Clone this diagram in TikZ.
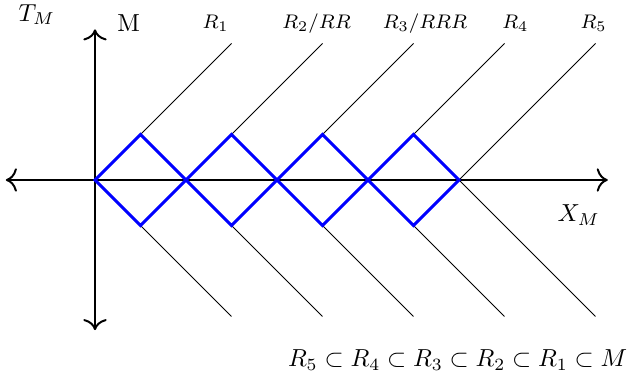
\documentclass[tikz,border=0pt]{standalone}
\usepackage{amsmath,amssymb}
\usepackage{tikz}
\usetikzlibrary{arrows.meta,positioning,calc}
\tikzset{
  ax/.style={{To[length=4.5pt,width=9.5pt]}-{To[length=4.5pt,width=9.5pt]},thick},
  ray/.style={thin},
  dia/.style={blue,very thick,line join=miter},
  lab/.style={anchor=base,inner sep=0pt},
  slab/.style={anchor=base,inner sep=0pt,font=\footnotesize},
}

\begin{document}
\begin{tikzpicture}[x=0.65cm,y=0.65cm]
  \useasboundingbox (-2.088,-4.352) rectangle (11.692,3.956);
  % axes
  \coordinate (xl) at (-1.96,0);
  \coordinate (xr) at (11.27,0);
  \coordinate (yt) at (0,3.31);
  \coordinate (yb) at (0,-3.3);
  \draw[ax] (xl) -- (xr);
  \draw[ax] (yb) -- (yt);
  % diamond corners
  \coordinate (o0) at (0,0);
  \coordinate (o1) at (2,0);
  \coordinate (o2) at (4,0);
  \coordinate (o3) at (6,0);
  \coordinate (o4) at (8,0);
  \coordinate (t1) at (1,1);
  \coordinate (t2) at (3,1);
  \coordinate (t3) at (5,1);
  \coordinate (t4) at (7,1);
  \coordinate (b1) at (1,-1);
  \coordinate (b2) at (3,-1);
  \coordinate (b3) at (5,-1);
  \coordinate (b4) at (7,-1);
  % ray ends
  \coordinate (u1) at (3,3);
  \coordinate (u2) at (5,3);
  \coordinate (u3) at (7,3);
  \coordinate (u4) at (9,3);
  \coordinate (u5) at (11,3);
  \coordinate (d1) at (3,-3);
  \coordinate (d2) at (5,-3);
  \coordinate (d3) at (7,-3);
  \coordinate (d4) at (9,-3);
  \coordinate (d5) at (11,-3);
  \draw[ray] (t1) -- (u1);
  \draw[ray] (t2) -- (u2);
  \draw[ray] (t3) -- (u3);
  \draw[ray] (t4) -- (u4);
  \draw[ray] (o4) -- (u5);
  \draw[ray] (b1) -- (d1);
  \draw[ray] (b2) -- (d2);
  \draw[ray] (b3) -- (d3);
  \draw[ray] (b4) -- (d4);
  \draw[ray] (o4) -- (d5);
  \draw[dia] (o0) -- (t1) -- (o1) -- (b1) -- cycle;
  \draw[dia] (o1) -- (t2) -- (o2) -- (b2) -- cycle;
  \draw[dia] (o2) -- (t3) -- (o3) -- (b3) -- cycle;
  \draw[dia] (o3) -- (t4) -- (o4) -- (b4) -- cycle;
  % labels
  \node[lab] (tm) at (-1.28,3.49) {$T_M$};
  \node[lab] (m) at (0.74,3.26) {M};
  \node[slab] (r1) at (2.65,3.33) {$R_1$};
  \node[slab] (r2) at (4.87,3.33) {$R_2/RR$};
  \node[slab] (r3) at (7.25,3.33) {$R_3/RRR$};
  \node[slab] (r4) at (9.24,3.33) {$R_4$};
  \node[slab] (r5) at (10.96,3.33) {$R_5$};
  \node[lab] (xm) at (10.63,-0.92) {$X_M$};
  \node[lab] (inc) at (7.97,-4.10) {$R_5 \subset R_4 \subset R_3 \subset R_2 \subset R_1 \subset M$};
\end{tikzpicture}
\end{document}
